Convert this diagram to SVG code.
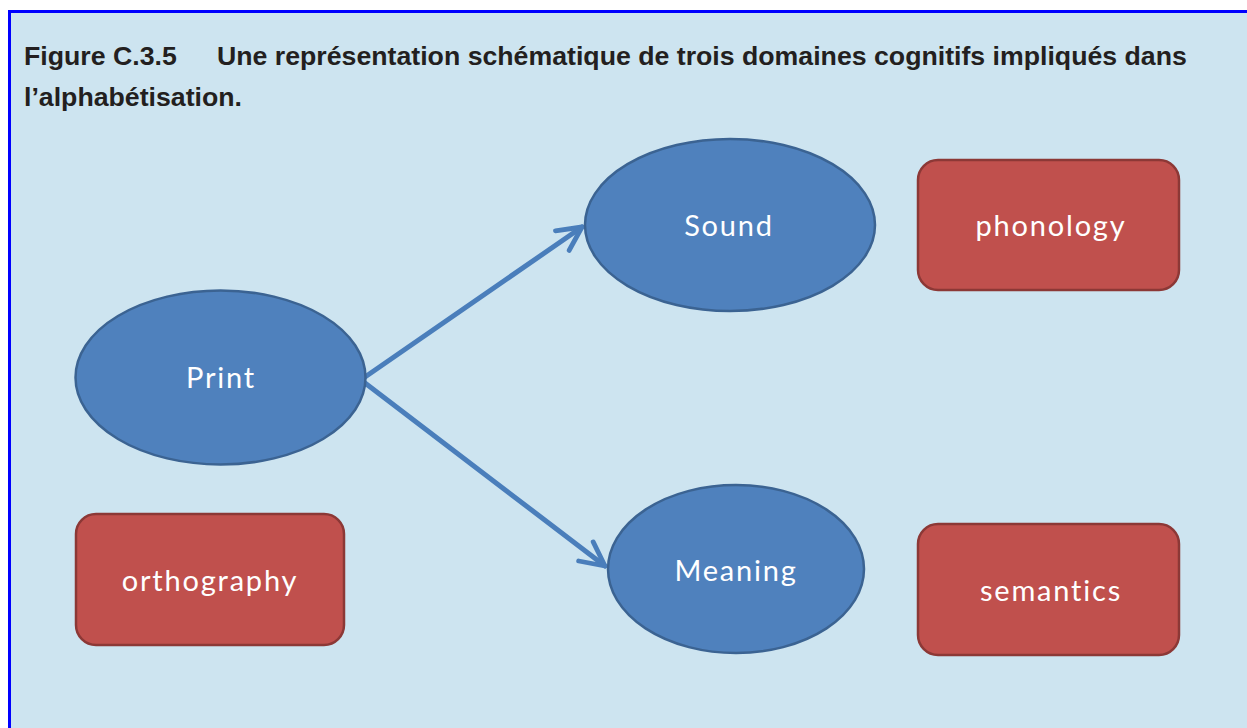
<svg xmlns="http://www.w3.org/2000/svg" width="1247" height="728" viewBox="0 0 1247 728">
<defs>
<style>
.title{font-family:"Liberation Sans",Arial,sans-serif;font-weight:bold;font-size:26.7px;fill:#231F20}
.ell{fill:#4F81BD;stroke:#3B6392;stroke-width:2.5}
.box{fill:#C0504D;stroke:#8C3836;stroke-width:2.5}
.lbl{font-family:Lato,"Open Sans",sans-serif;font-size:29px;letter-spacing:1.8px;fill:#FFFFFF;text-anchor:middle}
.conn{stroke:#4A7EBB;stroke-width:5;fill:none;stroke-linecap:round}
</style>
<marker id="arr" viewBox="0 0 10 10" refX="9" refY="5" markerWidth="6" markerHeight="6" markerUnits="strokeWidth" orient="auto">
<path d="M1,1 L9,5 L1,9" fill="none" stroke="#4A7EBB" stroke-width="1.6" stroke-linecap="round" stroke-linejoin="round"/>
</marker>
</defs>
<rect x="0" y="0" width="1247" height="728" fill="#FFFFFF"/>
<rect x="9.5" y="11.5" width="1250" height="730" fill="#CDE4F0" stroke="#0000FF" stroke-width="3"/>
<g id="title">
<text class="title" x="24" y="65">Figure C.3.5</text>
<text class="title" x="217" y="65">Une représentation schématique de trois domaines cognitifs impliqués dans</text>
<text class="title" x="24" y="106">l’alphabétisation.</text>
</g>
<g id="connectors">
<line class="conn" x1="365" y1="377" x2="582" y2="227" marker-end="url(#arr)"/>
<line class="conn" x1="365" y1="383" x2="605" y2="566" marker-end="url(#arr)"/>
</g>
<g id="print">
<ellipse class="ell" cx="220.5" cy="377.5" rx="145" ry="87"/>
<text class="lbl" x="221" y="388">Print</text>
</g>
<g id="sound">
<ellipse class="ell" cx="730" cy="225" rx="145" ry="86"/>
<text class="lbl" x="729" y="236">Sound</text>
</g>
<g id="meaning">
<ellipse class="ell" cx="736" cy="569" rx="128" ry="84"/>
<text class="lbl" x="736" y="581">Meaning</text>
</g>
<g id="phonology">
<rect class="box" x="918" y="160" width="261" height="130" rx="20"/>
<text class="lbl" x="1051" y="236">phonology</text>
</g>
<g id="semantics">
<rect class="box" x="918" y="524" width="261" height="131" rx="20"/>
<text class="lbl" x="1051" y="601">semantics</text>
</g>
<g id="orthography">
<rect class="box" x="76" y="514" width="268" height="131" rx="20"/>
<text class="lbl" x="210" y="591">orthography</text>
</g>
</svg>
